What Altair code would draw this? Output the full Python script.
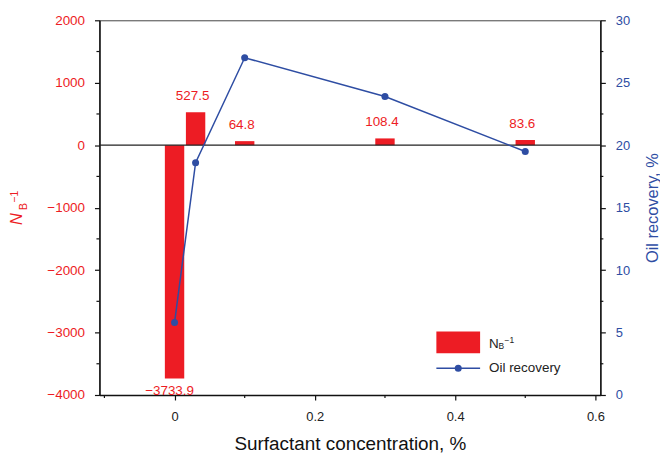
import altair as alt
import pandas as pd

# ---- data ----
conc_bar = [0.0, 0.03, 0.1, 0.3, 0.5]
nb_inv = [-3733.9, 527.5, 64.8, 108.4, 83.6]
conc_line = [0.0, 0.03, 0.1, 0.3, 0.5]
oil_recovery = [5.8, 18.6, 27.0, 23.9, 19.5]

x_major = [0.0, 0.2, 0.4, 0.6]
x_minor = [-0.1, 0.1, 0.3, 0.5]
left_major = [-4000, -3000, -2000, -1000, 0, 1000, 2000]
left_minor = [-3500, -2500, -1500, -500, 500, 1500]
right_major = [0, 5, 10, 15, 20, 25, 30]
right_minor = [2.5, 7.5, 12.5, 17.5, 22.5, 27.5]

RED = "#ED1C24"
BLUE = "#2E4DA3"
FONT = "Liberation Sans"

bar_df = pd.DataFrame({"conc": conc_bar, "nb": nb_inv})
line_df = pd.DataFrame({"conc": conc_line, "oil": oil_recovery})
one = pd.DataFrame({"k": [0]})

common = dict(grid=False, domainColor="#111", tickColor="#111", domainWidth=1.5,
              tickWidth=1.2, tickSize=5, labelFont=FONT, titleFont=FONT)

x_scale = alt.Scale(domain=[-0.1, 0.6], nice=False, zero=False)
x_axis = alt.Axis(
    values=x_major, title="Surfactant concentration, %", format="~g",
    labelColor="#222", labelFontSize=13, labelPadding=11,
    titleFontSize=19, titleFontWeight="normal", titleColor="#111", titlePadding=11,
    **common,
)
left_axis = alt.Axis(
    values=left_major, title=None, orient="left", format="d",
    labelColor=RED, labelFontSize=13.5, labelPadding=10, **common,
)
right_axis = alt.Axis(
    values=right_major, title="Oil recovery, %", orient="right", format="d",
    labelColor=BLUE, labelFontSize=13, labelPadding=10,
    titleColor=BLUE, titleFontSize=16.5, titleFontWeight="normal", titleAngle=270,
    titleBaseline="top", titlePadding=15, **common,
)

y_left = alt.Scale(domain=[-4000, 2000], nice=False, zero=False)
y_right = alt.Scale(domain=[0, 30], nice=False, zero=False)

X = alt.X("conc:Q", scale=x_scale, axis=x_axis)

bars = alt.Chart(bar_df).mark_bar(size=19.5, color=RED).encode(
    x=X, y=alt.Y("nb:Q", scale=y_left, axis=left_axis),
)
zero_rule = alt.Chart(one).mark_rule(color="#222", strokeWidth=1.2).encode(
    y=alt.YDatum(0, scale=y_left, axis=left_axis),
)
lab_pos = alt.Chart(bar_df).transform_filter("datum.nb >= 0").mark_text(
    color=RED, fontSize=13.5, font=FONT, baseline="alphabetic", dy=-12, dx=-3
).encode(x=X, y=alt.Y("nb:Q", scale=y_left, axis=left_axis),
         text=alt.Text("nb:Q", format=".1f"))
lab_neg = alt.Chart(bar_df).transform_filter("datum.nb < 0").mark_text(
    color=RED, fontSize=13.5, font=FONT, baseline="alphabetic", dy=17, dx=-5
).encode(x=X, y=alt.Y("nb:Q", scale=y_left, axis=left_axis),
         text=alt.Text("nb:Q", format=".1f"))

# minor ticks (drawn through the scales)
lminor = alt.Chart(pd.DataFrame({"v": left_minor})).mark_rule(color="#111", strokeWidth=1.2).encode(
    y=alt.Y("v:Q", scale=y_left, axis=left_axis), x=alt.value(-3), x2=alt.value(0)
)
xminor = alt.Chart(pd.DataFrame({"v": x_minor})).mark_rule(color="#111", strokeWidth=1.2).encode(
    x=alt.X("v:Q", scale=x_scale, axis=x_axis), y=alt.value(377), y2=alt.value(380)
)

left_layer = alt.layer(bars, zero_rule, lab_pos, lab_neg, lminor, xminor)

Yr = alt.Y("oil:Q", scale=y_right, axis=right_axis)
line = alt.Chart(line_df).mark_line(color=BLUE, strokeWidth=1.5).encode(x=X, y=Yr)
pts = alt.Chart(line_df).mark_point(filled=True, color=BLUE, size=50, opacity=1).encode(x=X, y=Yr)
rminor = alt.Chart(pd.DataFrame({"v": right_minor})).mark_rule(color="#111", strokeWidth=1.2).encode(
    y=alt.Y("v:Q", scale=y_right, axis=right_axis), x=alt.value(504), x2=alt.value(507)
)
right_layer = alt.layer(line, pts, rminor)


def txt(s, x, y, size, color, angle=0, style="normal", align="center", baseline="middle"):
    return alt.Chart(one).mark_text(
        text=s, fontSize=size, font=FONT, color=color, angle=angle,
        fontStyle=style, align=align, baseline=baseline,
    ).encode(x=alt.value(x), y=alt.value(y))


# ---- left axis title: N_B^-1 ----
title_n = txt("N", -82.5, 200, 16.5, RED, angle=270, style="italic")
title_b = txt("B", -75.5, 187.5, 10.5, RED, angle=270)
title_e = txt("\u22121", -85, 177.5, 10.5, RED, angle=270)

# ---- legend ----
leg_rect = alt.Chart(one).mark_rect(color=RED).encode(
    x=alt.value(339), x2=alt.value(383), y=alt.value(313), y2=alt.value(335)
)
leg_line = alt.Chart(one).mark_rule(color=BLUE, strokeWidth=1.5).encode(
    x=alt.value(339), x2=alt.value(383), y=alt.value(350)
)
leg_pt = alt.Chart(one).mark_point(filled=True, color=BLUE, size=50, opacity=1).encode(
    x=alt.value(361), y=alt.value(350)
)
leg_n = txt("N", 392, 326, 13.5, "#222", align="left")
leg_b = txt("B", 401.5, 328, 8.5, "#222", align="left")
leg_e = txt("\u22121", 407.5, 322, 8.5, "#222", align="left")
leg_oil = txt("Oil recovery", 392, 350, 13.5, "#222", align="left")

chart = alt.layer(
    left_layer, right_layer,
    title_n, title_b, title_e,
    leg_rect, leg_line, leg_pt, leg_n, leg_b, leg_e, leg_oil,
).resolve_scale(y="independent").properties(
    width=504, height=377,
    padding={"left": 92, "top": 11, "right": 60, "bottom": 58},
    autosize=alt.AutoSizeParams(type="none"),
).configure_view(stroke="#444", strokeWidth=1)

chart.save("out.html", embed_options={"renderer": "svg", "actions": False})
